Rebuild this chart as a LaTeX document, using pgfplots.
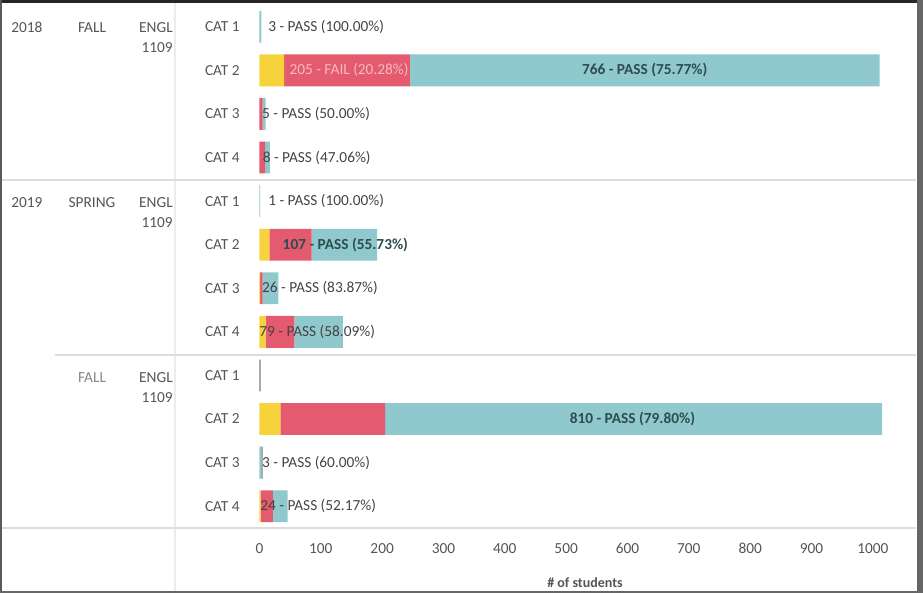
\documentclass[border=0pt]{standalone}
\usepackage{pgfplots}
\pgfplotsset{compat=1.18}
\usepackage{pgfplotstable}
\usepackage{fontspec}
\setmainfont{Carlito}

\definecolor{tyel}{HTML}{F6D33A}
\definecolor{tred}{HTML}{E45A6E}
\definecolor{tteal}{HTML}{8FC8CD}
\definecolor{tgray}{HTML}{7A7A7A}
\definecolor{hdr}{HTML}{555555}
\definecolor{sep}{HTML}{DDDDDD}
\definecolor{lbl}{HTML}{444444}
\definecolor{inlbl}{HTML}{2E4D50}
\definecolor{faillbl}{HTML}{F7B9C3}

% row = position from the top, 0..11
\pgfplotstableread{
row yel red pass oth
0   0   0   3    0
1   40  205 766  0
2   0   5   5    0
3   0   9   8    0
4   0   0   1    0
5   16  69  107  0
6   1   4   26   0
7   10  47  79   0
8   0   0   0    2
9   34  171 810  0
10  0   0   3    2
11  2   20  24   0
}\grades

\begin{document}
\begin{tikzpicture}[x=0.75pt, y=-0.75pt, font=\fontsize{11.5}{13}\selectfont]
    \useasboundingbox (0,0) rectangle (923,593);

    % table separators
    \draw[sep!55, line width=0.8pt] (175,0) -- (175,593);
    \draw[sep, line width=0.8pt] (0,180) -- (916,180);
    \draw[sep, line width=0.8pt] (55,355) -- (916,355);
    \draw[sep, line width=0.8pt] (0,528) -- (916,528);

    \begin{axis}[
        at                  = {(191.25pt,-396pt)},
        anchor              = south west,
        scale only axis,
        width               = 495.75pt,
        height              = 392.25pt,
        xmin                = -7.3,
        xmax                = 1070.4,
        ymin                = -0.5,
        ymax                = 11.5,
        y dir               = reverse,
        xbar stacked,
        bar width           = 0.73,
        clip                = false,
        axis line style     = {draw=none},
        major tick length   = 0pt,
        xtick               = {0,100,...,1000},
        ytick               = {0,...,11},
        yticklabels         = {CAT 1, CAT 2, CAT 3, CAT 4, CAT 1, CAT 2, CAT 3, CAT 4, CAT 1, CAT 2, CAT 3, CAT 4},
        ticklabel style     = {text=hdr, font=\fontsize{11.5}{13}\selectfont},
        xticklabel style    = {yshift=-8pt},
        yticklabel style    = {xshift=-8pt},
        /pgf/number format/assume math mode = true,
        /pgf/number format/set thousands separator = {}]

        \addplot[fill=tyel,  draw=none] table[x=yel,  y=row] {\grades};
        \addplot[fill=tred,  draw=none] table[x=red,  y=row] {\grades};
        \addplot[fill=tteal, draw=none] table[x=pass, y=row] {\grades};
        \addplot[fill=tgray, draw=none] table[x=oth,  y=row] {\grades};

        % anchors of the mark labels, set after the axis so they sit on the bars
        \coordinate (L0)  at (axis cs:14,0);
        \coordinate (L1f) at (axis cs:146,1);
        \coordinate (L1p) at (axis cs:628,1);
        \coordinate (L2)  at (axis cs:4,2);
        \coordinate (L3)  at (axis cs:5,3);
        \coordinate (L4)  at (axis cs:14,4);
        \coordinate (L5)  at (axis cs:140,5);
        \coordinate (L6)  at (axis cs:4,6);
        \coordinate (L7)  at (axis cs:94,7);
        \coordinate (L9)  at (axis cs:608,9);
        \coordinate (L10) at (axis cs:4,10);
        \coordinate (L11) at (axis cs:1,11);
    \end{axis}

    \begin{scope}[every node/.style={inner sep=0, text=lbl}]
        \node[anchor=west] at (L0) {3 - PASS (100.00\%)};
        \node[text=faillbl] at (L1f) {205 - FAIL (20.28\%)};
        \node[text=inlbl, font=\fontsize{11.5}{13}\selectfont\bfseries] at (L1p) {766 - PASS (75.77\%)};
        \node[anchor=west] at (L2) {5 - PASS (50.00\%)};
        \node[anchor=west] at (L3) {8 - PASS (47.06\%)};
        \node[anchor=west] at (L4) {1 - PASS (100.00\%)};
        \node[text=inlbl, font=\fontsize{11.5}{13}\selectfont\bfseries] at (L5) {107 - PASS (55.73\%)};
        \node[anchor=west] at (L6) {26 - PASS (83.87\%)};
        \node at (L7) {79 - PASS (58.09\%)};
        \node[text=inlbl, font=\fontsize{11.5}{13}\selectfont\bfseries] at (L9) {810 - PASS (79.80\%)};
        \node[anchor=west] at (L10) {3 - PASS (60.00\%)};
        \node[anchor=west] at (L11) {24 - PASS (52.17\%)};
    \end{scope}

    % row headers
    \begin{scope}[every node/.style={inner sep=0, text=hdr}]
        \node[anchor=base west] at (11,32) {2018};
        \node[anchor=base]      at (92,32) {FALL};
        \node[anchor=base east] at (173,32) {ENGL};
        \node[anchor=base east] at (173,52) {1109};

        \node[anchor=base west] at (11,207) {2019};
        \node[anchor=base]      at (92,207) {SPRING};
        \node[anchor=base east] at (173,207) {ENGL};
        \node[anchor=base east] at (173,227) {1109};

        \node[anchor=base, text=hdr!70] at (92,382) {FALL};
        \node[anchor=base east] at (173,382) {ENGL};
        \node[anchor=base east] at (173,402) {1109};
    \end{scope}

    \node[inner sep=0, text=hdr, font=\fontsize{10.5}{12}\selectfont\bfseries] at (585,583) {\# of students};

    % frame of the screenshot
    \fill[black!85] (0,0) rectangle (923,3);
    \fill[black!60] (917,0) rectangle (923,593);
    \fill[black!65] (0,0) rectangle (2,593);
    \fill[black!60] (0,591) rectangle (923,593);
\end{tikzpicture}
\end{document}
